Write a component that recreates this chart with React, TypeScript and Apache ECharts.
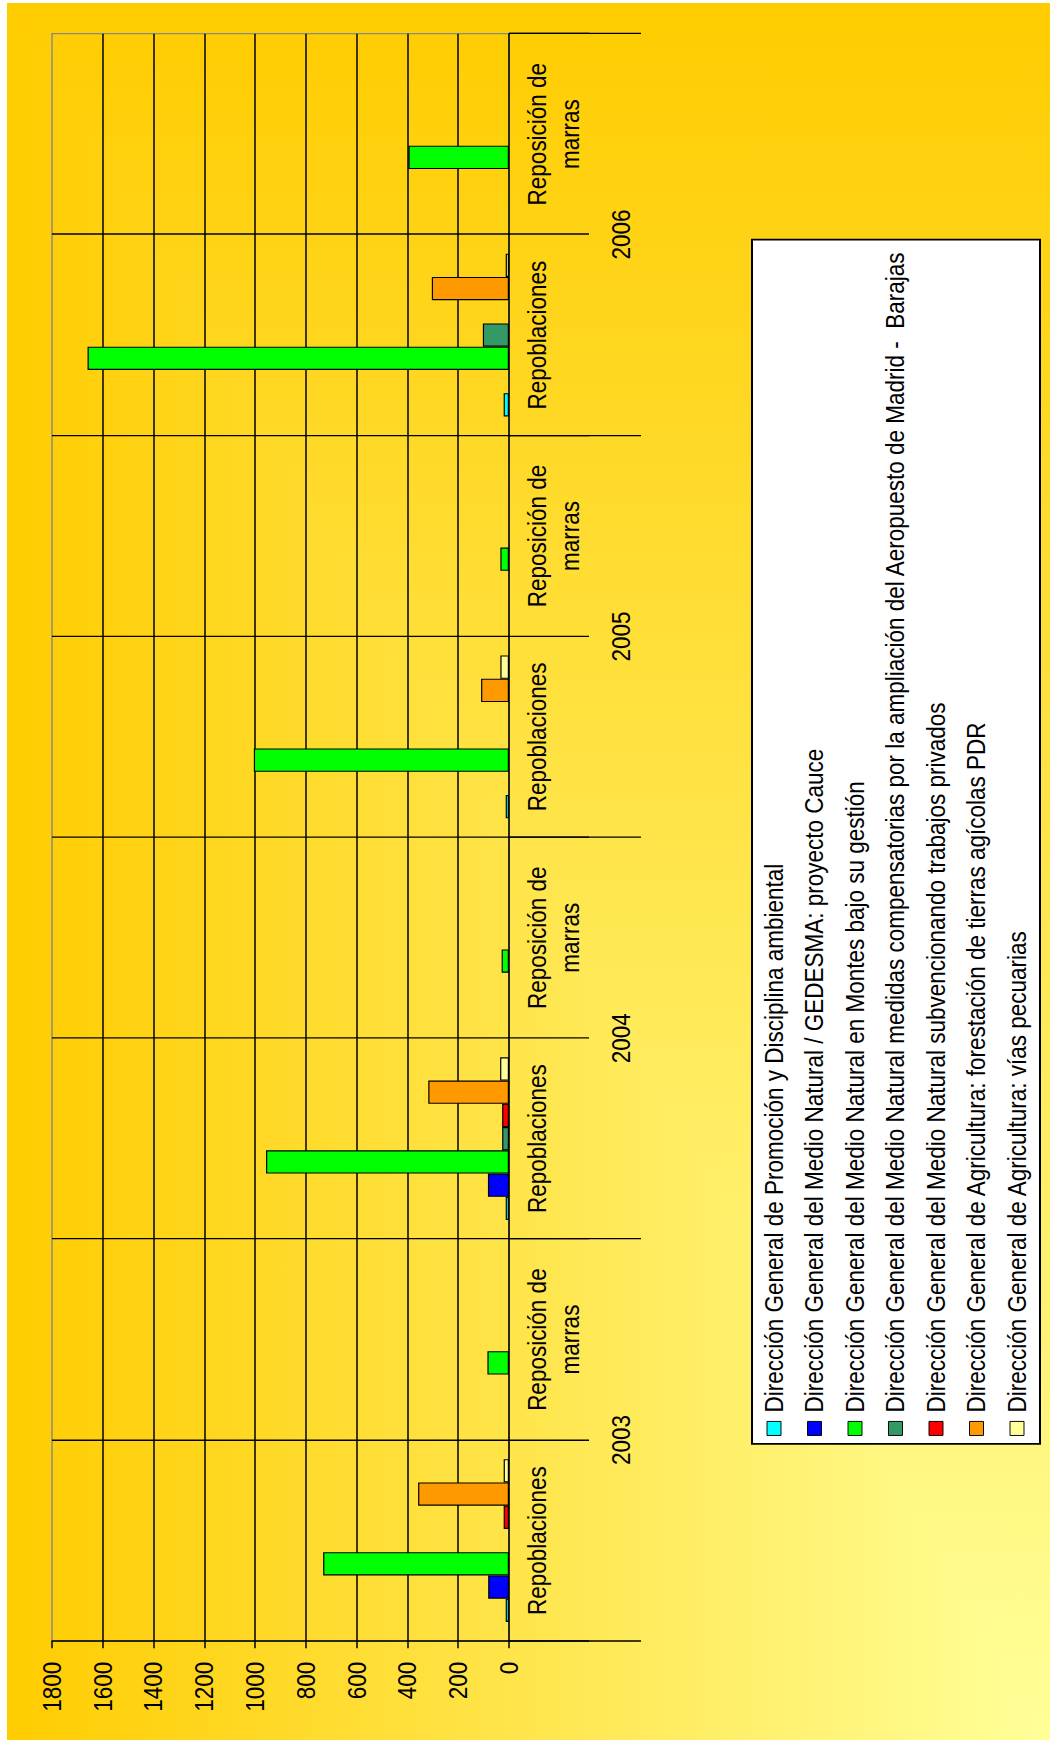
import React, { useEffect, useRef } from "react";
import * as echarts from "echarts";

// ---- data ----
const categories = [
  "Repoblaciones",
  "Reposición de\nmarras",
  "Repoblaciones",
  "Reposición de\nmarras",
  "Repoblaciones",
  "Reposición de\nmarras",
  "Repoblaciones",
  "Reposición de\nmarras",
];
const years = ["2003", "2004", "2005", "2006"];
const valueTicks = { min: 0, max: 1800, interval: 200 };

const seriesNames = [
  "Dirección General de Promoción y Disciplina ambiental",
  "Dirección General del Medio Natural / GEDESMA: proyecto Cauce",
  "Dirección General del Medio Natural en Montes bajo su gestión",
  "Dirección General del Medio Natural medidas compensatorias por la ampliación del Aeropuesto de Madrid -  Barajas",
  "Dirección General del Medio Natural subvencionando trabajos privados",
  "Dirección General de Agricultura: forestación de tierras agícolas PDR",
  "Dirección General de Agricultura: vías pecuarias",
];
const promocion = [13, null, 13, null, 13, null, 21, null];
const gedesma = [82, null, 83, null, null, null, null, null];
const montes = [732, 85, 957, 29, 1005, 34, 1660, 396];
const compensatorias = [null, null, 27, null, null, null, 103, null];
const subvenciones = [21, null, 27, null, null, null, null, null];
const forestacion = [358, null, 318, null, 110, null, 304, null];
const viasPecuarias = [21, null, 35, null, 34, null, 13, null];
const seriesValues = [promocion, gedesma, montes, compensatorias, subvenciones, forestacion, viasPecuarias];
const seriesColors = ["#00FFFF", "#0000FF", "#00FF00", "#339966", "#FF0000", "#FF9900", "#FFFF99"];

// ---- layout (chart drawn unrotated, then turned a quarter turn) ----
const PAGE_W = 1050;
const PAGE_H = 1740;
const W0 = 1933;
const H0 = PAGE_W;
const SX = PAGE_H / W0;
const FONT = "'Liberation Sans', Arial, sans-serif";

export default function App() {
  const ref = useRef<HTMLDivElement>(null);

  useEffect(() => {
    if (!ref.current) return;
    const chart = echarts.init(ref.current, null, { renderer: "svg" });
    const black = "#000";
    const option: any = {
      animation: false,
      backgroundColor: "transparent",
      textStyle: { fontFamily: FONT },
      grid: {
        left: 110,
        right: W0 - 1895.6,
        top: 52,
        bottom: H0 - 509,
        show: true,
        borderColor: "#8a8a8a",
        borderWidth: 1.5,
        backgroundColor: "transparent",
        containLabel: false,
      },
      legend: {
        orient: "vertical",
        left: 329,
        top: 752,
        padding: [9.5, 12, 10.5, 8.8],
        itemWidth: 15.6,
        itemHeight: 14,
        itemGap: 15.5,
        icon: "rect",
        backgroundColor: "#ffffff",
        borderColor: black,
        borderWidth: 2,
        itemStyle: { borderColor: black, borderWidth: 1 },
        textStyle: {
          fontSize: 25,
          lineHeight: 25,
          color: black,
          fontFamily: FONT,
          padding: [0, 0, 0, 5],
        },
        data: seriesNames,
      },
      xAxis: [
        {
          type: "category",
          data: categories,
          position: "bottom",
          axisLine: { show: true, lineStyle: { color: black, width: 1.5 } },
          axisTick: { show: true, length: 80, interval: 0, lineStyle: { color: black, width: 1.5 } },
          axisLabel: {
            interval: 0,
            margin: 12,
            fontSize: 25,
            lineHeight: 33,
            color: black,
            fontFamily: FONT,
            align: "center",
          },
          splitLine: {
            show: true,
            interval: 0,
            showMinLine: false,
            showMaxLine: false,
            lineStyle: { color: black, width: 1.5 },
          },
        },
        {
          type: "category",
          data: years,
          position: "bottom",
          axisLine: { show: false },
          axisTick: { show: true, length: 132, interval: 0, lineStyle: { color: black, width: 1.5 } },
          axisLabel: { interval: 0, margin: 100, fontSize: 25, lineHeight: 25, color: black, fontFamily: FONT },
          splitLine: { show: false },
        },
      ],
      yAxis: {
        type: "value",
        min: valueTicks.min,
        max: valueTicks.max,
        interval: valueTicks.interval,
        axisLine: { show: true, lineStyle: { color: black, width: 1.5 } },
        axisTick: { show: true, length: 8, lineStyle: { color: black, width: 1.5 } },
        axisLabel: {
          margin: 23,
          fontSize: 25,
          color: black,
          fontFamily: FONT,
          formatter: (v: number) => String(v),
        },
        splitLine: {
          show: true,
          showMinLine: false,
          showMaxLine: false,
          lineStyle: { color: black, width: 1.5 },
        },
      },
      series: seriesNames.map((name, i) => ({
        name,
        type: "bar",
        xAxisIndex: 0,
        data: seriesValues[i],
        barGap: "0%",
        barCategoryGap: "19%",
        itemStyle: { color: seriesColors[i], borderColor: black, borderWidth: 1.2 },
        emphasis: { disabled: true },
      })),
    };
    chart.setOption(option);
    return () => chart.dispose();
  }, []);

  return (
    <div
      style={{
        position: "absolute",
        left: 0,
        top: 0,
        width: PAGE_W,
        height: PAGE_H,
        overflow: "hidden",
        background: "#ffffff",
      }}
    >
      <div
        style={{
          position: "absolute",
          left: 7,
          top: 3,
          right: 0,
          bottom: 0,
          backgroundColor: "#ffffff",
          backgroundImage:
            "linear-gradient(to left, #FFFF99, #FFCC00), linear-gradient(to top, #FFFF99, #FFCC00)",
          backgroundBlendMode: "darken",
        }}
      />
      <div
        ref={ref}
        style={{
          position: "absolute",
          left: 0,
          top: 0,
          width: W0,
          height: H0,
          transformOrigin: "0 0",
          transform: `translate(0px, ${PAGE_H}px) rotate(-90deg) scale(${SX}, 1)`,
        }}
      />
    </div>
  );
}
